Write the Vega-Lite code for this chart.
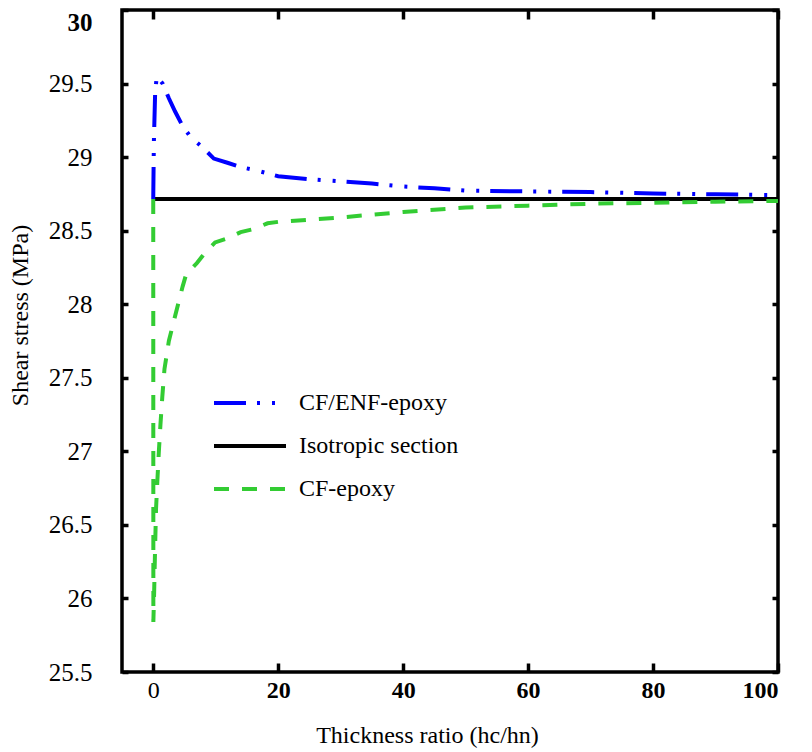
{
  "$schema": "https://vega.github.io/schema/vega-lite/v6.json",
  "width": 656,
  "height": 662,
  "autosize": "none",
  "padding": {"left": 122, "top": 10, "right": 34, "bottom": 80},
  "background": "white",
  "config": {
    "view": {"stroke": "black", "strokeWidth": 3.5},
    "font": "Liberation Serif",
    "axis": {"domain": false, "grid": false, "tickColor": "black", "tickWidth": 3.5, "labelColor": "black", "titleColor": "black", "labelFont": "Liberation Serif", "titleFont": "Liberation Serif", "titleFontWeight": "normal"}
  },
  "data": {
    "values": [
      {"series": "Isotropic section", "x": 0, "y": 28.715},
      {"series": "Isotropic section", "x": 100, "y": 28.715},
      {"series": "CF/ENF-epoxy", "x": 0, "y": 28.715},
      {"series": "CF/ENF-epoxy", "x": 0.1, "y": 29.1},
      {"series": "CF/ENF-epoxy", "x": 0.3, "y": 29.43},
      {"series": "CF/ENF-epoxy", "x": 0.56, "y": 29.55},
      {"series": "CF/ENF-epoxy", "x": 1.5, "y": 29.5},
      {"series": "CF/ENF-epoxy", "x": 2.5, "y": 29.4},
      {"series": "CF/ENF-epoxy", "x": 3.5, "y": 29.31},
      {"series": "CF/ENF-epoxy", "x": 4.6, "y": 29.22},
      {"series": "CF/ENF-epoxy", "x": 5.9, "y": 29.14},
      {"series": "CF/ENF-epoxy", "x": 7.8, "y": 29.07},
      {"series": "CF/ENF-epoxy", "x": 9.7, "y": 28.99},
      {"series": "CF/ENF-epoxy", "x": 12, "y": 28.96},
      {"series": "CF/ENF-epoxy", "x": 14.2, "y": 28.93},
      {"series": "CF/ENF-epoxy", "x": 16.5, "y": 28.91},
      {"series": "CF/ENF-epoxy", "x": 20, "y": 28.87},
      {"series": "CF/ENF-epoxy", "x": 25, "y": 28.85},
      {"series": "CF/ENF-epoxy", "x": 30, "y": 28.835},
      {"series": "CF/ENF-epoxy", "x": 35, "y": 28.82},
      {"series": "CF/ENF-epoxy", "x": 40, "y": 28.8},
      {"series": "CF/ENF-epoxy", "x": 45, "y": 28.788},
      {"series": "CF/ENF-epoxy", "x": 50, "y": 28.772},
      {"series": "CF/ENF-epoxy", "x": 60, "y": 28.767},
      {"series": "CF/ENF-epoxy", "x": 70, "y": 28.762},
      {"series": "CF/ENF-epoxy", "x": 80, "y": 28.753},
      {"series": "CF/ENF-epoxy", "x": 90, "y": 28.747},
      {"series": "CF/ENF-epoxy", "x": 100, "y": 28.742},
      {"series": "CF-epoxy", "x": 0, "y": 28.715},
      {"series": "CF-epoxy", "x": 0.02, "y": 25.84},
      {"series": "CF-epoxy", "x": 0.15, "y": 26.05},
      {"series": "CF-epoxy", "x": 0.3, "y": 26.35},
      {"series": "CF-epoxy", "x": 0.45, "y": 26.61},
      {"series": "CF-epoxy", "x": 0.66, "y": 26.8},
      {"series": "CF-epoxy", "x": 0.9, "y": 27.0},
      {"series": "CF-epoxy", "x": 1.15, "y": 27.18},
      {"series": "CF-epoxy", "x": 1.45, "y": 27.37},
      {"series": "CF-epoxy", "x": 1.8, "y": 27.56},
      {"series": "CF-epoxy", "x": 2.5, "y": 27.75},
      {"series": "CF-epoxy", "x": 3.5, "y": 27.92},
      {"series": "CF-epoxy", "x": 4.7, "y": 28.12},
      {"series": "CF-epoxy", "x": 5.25, "y": 28.2},
      {"series": "CF-epoxy", "x": 7, "y": 28.28},
      {"series": "CF-epoxy", "x": 8.1, "y": 28.34},
      {"series": "CF-epoxy", "x": 9.9, "y": 28.42},
      {"series": "CF-epoxy", "x": 12, "y": 28.45},
      {"series": "CF-epoxy", "x": 14, "y": 28.49},
      {"series": "CF-epoxy", "x": 16, "y": 28.51},
      {"series": "CF-epoxy", "x": 18.3, "y": 28.55},
      {"series": "CF-epoxy", "x": 20, "y": 28.56},
      {"series": "CF-epoxy", "x": 25, "y": 28.575},
      {"series": "CF-epoxy", "x": 30, "y": 28.59},
      {"series": "CF-epoxy", "x": 40, "y": 28.627},
      {"series": "CF-epoxy", "x": 50, "y": 28.657},
      {"series": "CF-epoxy", "x": 60, "y": 28.67},
      {"series": "CF-epoxy", "x": 70, "y": 28.683},
      {"series": "CF-epoxy", "x": 80, "y": 28.69},
      {"series": "CF-epoxy", "x": 90, "y": 28.697},
      {"series": "CF-epoxy", "x": 100, "y": 28.702}
    ]
  },
  "layer": [
    {
      "mark": {"type": "point", "opacity": 0},
      "encoding": {
        "x": {"field": "x", "type": "quantitative", "axis": {"orient": "top", "values": [0, 20, 40, 60, 80, 100], "labels": false, "title": null, "tickSize": -9}},
        "y": {"field": "y", "type": "quantitative", "axis": {"orient": "right", "values": [25.5, 26, 26.5, 27, 27.5, 28, 28.5, 29, 29.5, 30], "labels": false, "title": null, "tickSize": -6}}
      }
    },
    {
      "mark": {"type": "line", "strokeWidth": 4, "strokeCap": "butt", "strokeJoin": "miter"},
      "encoding": {
        "x": {
          "field": "x", "type": "quantitative",
          "scale": {"domain": [-5, 100], "nice": false, "zero": false},
          "axis": {
            "orient": "bottom",
            "values": [0, 20, 40, 60, 80, 100],
            "tickSize": -9,
            "labelFont": "Liberation Serif",
            "labelFontSize": 24,
            "labelFontWeight": {"condition": {"test": "datum.value == 0", "value": "normal"}, "value": "bold"},
            "labelPadding": 15,
            "labelExpr": "'' + datum.value",
            "title": "Thickness ratio (hc/hn)",
            "titleFont": "Liberation Serif",
            "titleFontSize": 24,
            "titleFontWeight": "normal",
            "titleX": 305,
            "titleY": 63,
            "titleBaseline": "middle"
          }
        },
        "y": {
          "field": "y", "type": "quantitative",
          "scale": {"domain": [25.5, 30], "nice": false, "zero": false},
          "axis": {
            "orient": "left",
            "values": [25.5, 26, 26.5, 27, 27.5, 28, 28.5, 29, 29.5, 30],
            "tickSize": -6,
            "labelFont": "Liberation Serif",
            "labelFontSize": 25,
            "labelFontWeight": {"condition": {"test": "datum.value == 30", "value": "bold"}, "value": "normal"},
            "labelPadding": 36,
            "labelBaseline": {"condition": {"test": "datum.value == 30", "value": "top"}, "value": "middle"},
            "labelExpr": "'' + datum.value",
            "title": "Shear stress (MPa)",
            "titleFont": "Liberation Serif",
            "titleFontSize": 24,
            "titleFontWeight": "normal",
            "titleX": -102,
            "titleY": 305,
            "titleAlign": "center",
            "titleBaseline": "middle"
          }
        },
        "color": {
          "field": "series", "type": "nominal",
          "scale": {"domain": ["CF/ENF-epoxy", "Isotropic section", "CF-epoxy"], "range": ["#0000ff", "#000000", "#33cc33"]},
          "legend": {
            "orient": "none", "legendX": 116, "legendY": 381, "title": null, "padding": 0,
            "symbolType": "M-6,0H6", "symbolSize": 144, "symbolStrokeWidth": 4,
            "labelFont": "Liberation Serif", "labelFontSize": 24, "labelColor": "black", "labelOffset": 37,
            "rowPadding": 19
          }
        },
        "strokeDash": {
          "field": "series", "type": "nominal",
          "scale": {"domain": ["CF/ENF-epoxy", "Isotropic section", "CF-epoxy"], "range": [[32, 11, 3, 12, 3, 11], [1, 0], [15, 13]]}
        }
      }
    }
  ]
}
